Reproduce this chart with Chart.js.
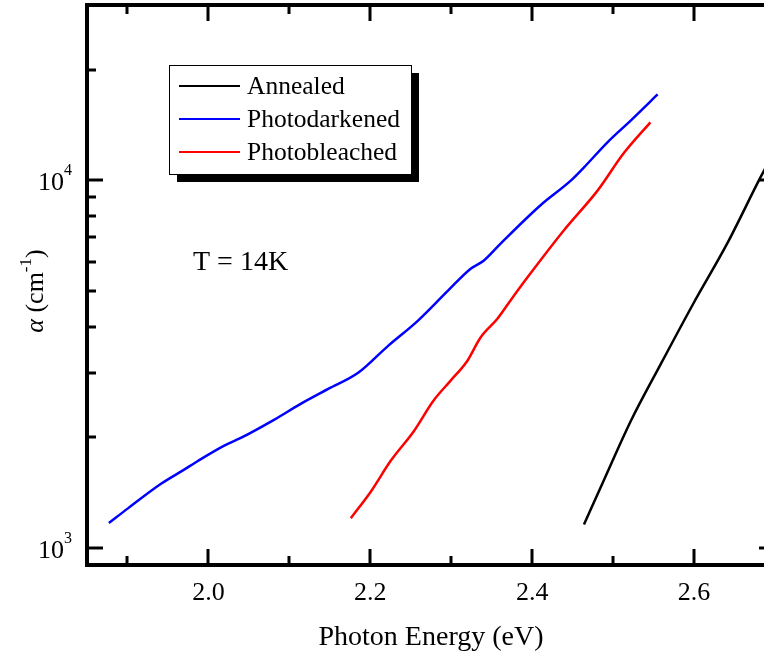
<!DOCTYPE html>
<html>
<head>
<meta charset="utf-8">
<script src="https://cdn.jsdelivr.net/npm/chart.js@4.4.1/dist/chart.umd.min.js"></script>
<style>
  html, body { margin: 0; padding: 0; background: #fff; overflow: hidden; }
  #wrap { width: 764px; height: 657px; overflow: hidden; }
  canvas { display: block; }
</style>
</head>
<body>
<div id="wrap"><canvas id="chart" width="800" height="657"></canvas></div>
<script>
// absorption edge, alpha (cm^-1) vs photon energy (eV), T = 14K
const seriesNames = ['Annealed', 'Photodarkened', 'Photobleached'];
const seriesColors = ['#000000', '#0000ff', '#ff0000'];

const annealedE = [2.464, 2.488, 2.522, 2.559, 2.599, 2.641, 2.682, 2.710];
const annealedAlpha = [1160, 1520, 2220, 3170, 4620, 6740, 10190, 13300];

const darkenedE = [1.877, 1.901, 1.941, 1.969, 1.987, 2.019, 2.040, 2.081, 2.114, 2.148, 2.185,
  2.222, 2.259, 2.296, 2.324, 2.340, 2.361, 2.410, 2.448, 2.464, 2.493, 2.522, 2.555];
const darkenedAlpha = [1170, 1285, 1494, 1630, 1726, 1897, 1994, 2234, 2468, 2710, 2998,
  3550, 4159, 5015, 5754, 6050, 6735, 8550, 10000, 10850, 12700, 14570, 17140];

const bleachedE = [2.176, 2.201, 2.225, 2.254, 2.278, 2.299, 2.320, 2.336, 2.357, 2.373, 2.394,
  2.439, 2.481, 2.513, 2.546];
const bleachedAlpha = [1207, 1429, 1726, 2084, 2517, 2851, 3235, 3736, 4207, 4710, 5443,
  7311, 9397, 11850, 14390];

const xMajorTicks = [2.0, 2.2, 2.4, 2.6];
const xMinorTicks = [1.9, 2.1, 2.3, 2.5, 2.7];
const xTickLabels = ['2.0', '2.2', '2.4', '2.6'];
const yMajorTicks = [1000, 10000];
const yMinorTicks = [2000, 3000, 4000, 5000, 6000, 7000, 8000, 9000, 20000];
const yTickExp = ['3', '4'];

const FONT = '"Liberation Serif", "Times New Roman", serif';

function toPoints(xs, ys) {
  return xs.map((x, i) => ({ x: x, y: ys[i] }));
}

// frame, inward ticks, labels, legend box with shadow, temperature note
const decorations = {
  id: 'decorations',
  afterDraw(chart) {
    const ctx = chart.ctx;
    const a = chart.chartArea;
    const xs = chart.scales.x;
    const ys = chart.scales.y;
    ctx.save();
    ctx.strokeStyle = '#000';
    ctx.fillStyle = '#000';

    // ticks
    ctx.lineWidth = 3;
    ctx.lineCap = 'butt';
    const xTick = (v, len) => {
      const px = Math.round(xs.getPixelForValue(v));
      ctx.beginPath();
      ctx.moveTo(px, a.bottom); ctx.lineTo(px, a.bottom - len);
      ctx.moveTo(px, a.top); ctx.lineTo(px, a.top + len);
      ctx.stroke();
    };
    const yTick = (v, len) => {
      const py = Math.round(ys.getPixelForValue(v));
      ctx.beginPath();
      ctx.moveTo(a.left, py); ctx.lineTo(a.left + len, py);
      ctx.moveTo(a.right, py); ctx.lineTo(a.right - len, py);
      ctx.stroke();
    };
    xMajorTicks.forEach(v => xTick(v, 16));
    xMinorTicks.forEach(v => xTick(v, 9));
    yMajorTicks.forEach(v => yTick(v, 16));
    yMinorTicks.forEach(v => yTick(v, 9));

    // frame
    ctx.lineWidth = 4;
    ctx.strokeRect(a.left, a.top, a.right - a.left, a.bottom - a.top);

    // x tick labels
    ctx.font = '26px ' + FONT;
    ctx.textAlign = 'center';
    ctx.textBaseline = 'alphabetic';
    xMajorTicks.forEach((v, i) => {
      ctx.fillText(xTickLabels[i], xs.getPixelForValue(v), 600);
    });

    // y tick labels, 10 with superscript exponent
    yMajorTicks.forEach((v, i) => {
      const py = ys.getPixelForValue(v);
      ctx.font = '26px ' + FONT;
      ctx.textAlign = 'right';
      ctx.fillText('10', 64, py + 10);
      ctx.font = '16px ' + FONT;
      ctx.textAlign = 'left';
      ctx.fillText(yTickExp[i], 64, py - 5);
    });

    // x axis title
    ctx.font = '28px ' + FONT;
    ctx.textAlign = 'center';
    ctx.fillText('Photon Energy (eV)', (a.left + a.right) / 2, 645);

    // y axis title: italic alpha, (cm^-1)
    ctx.save();
    ctx.translate(43, 291);
    ctx.rotate(-Math.PI / 2);
    ctx.textAlign = 'left';
    const big = '26px ' + FONT, small = '17px ' + FONT;
    ctx.font = 'italic ' + big;
    const w1 = ctx.measureText('\u03b1').width;
    ctx.font = big;
    const w2 = ctx.measureText(' (cm').width;
    ctx.font = small;
    const w3 = ctx.measureText('-1').width;
    ctx.font = big;
    const w4 = ctx.measureText(')').width;
    let x0 = -(w1 + w2 + w3 + w4) / 2;
    ctx.font = 'italic ' + big;
    ctx.fillText('\u03b1', x0, 0); x0 += w1;
    ctx.font = big;
    ctx.fillText(' (cm', x0, 0); x0 += w2;
    ctx.font = small;
    ctx.fillText('-1', x0, -12); x0 += w3;
    ctx.font = big;
    ctx.fillText(')', x0, 0);
    ctx.restore();

    // legend with drop shadow
    const lx = 169, ly = 65, lw = 242, lh = 109;
    ctx.fillStyle = '#000';
    ctx.fillRect(lx + 8, ly + 8, lw, lh);
    ctx.fillStyle = '#fff';
    ctx.fillRect(lx, ly, lw, lh);
    ctx.lineWidth = 1;
    ctx.strokeStyle = '#000';
    ctx.strokeRect(lx + 0.5, ly + 0.5, lw, lh);
    ctx.font = '25.5px ' + FONT;
    ctx.textAlign = 'left';
    ctx.textBaseline = 'middle';
    chart.data.datasets.forEach((ds, i) => {
      const ry = 86 + i * 33;
      ctx.strokeStyle = ds.borderColor;
      ctx.lineWidth = 2;
      ctx.beginPath();
      ctx.moveTo(179, ry); ctx.lineTo(240, ry);
      ctx.stroke();
      ctx.fillStyle = '#000';
      ctx.fillText(ds.label, 247, ry + 1);
    });

    // temperature note
    ctx.font = '28px ' + FONT;
    ctx.textBaseline = 'alphabetic';
    ctx.fillText('T = 14K', 193, 270);
    ctx.restore();
  }
};

const ctx = document.getElementById('chart').getContext('2d');
const chart = new Chart(ctx, {
  type: 'line',
  data: {
    datasets: [
      { label: seriesNames[0], data: toPoints(annealedE, annealedAlpha), borderColor: seriesColors[0] },
      { label: seriesNames[1], data: toPoints(darkenedE, darkenedAlpha), borderColor: seriesColors[1] },
      { label: seriesNames[2], data: toPoints(bleachedE, bleachedAlpha), borderColor: seriesColors[2] }
    ]
  },
  options: {
    responsive: false,
    animation: false,
    devicePixelRatio: 1,
    layout: { padding: { left: 0, top: 5, right: 25, bottom: 0 } },
    elements: {
      line: { borderWidth: 2.5, cubicInterpolationMode: 'monotone', fill: false },
      point: { radius: 0 }
    },
    plugins: {
      legend: { display: false },
      tooltip: { enabled: false }
    },
    scales: {
      x: {
        type: 'linear',
        min: 1.85,
        max: 2.70,
        grid: { display: false },
        border: { display: false },
        ticks: { display: false },
        afterFit(scale) { scale.height = 92; }
      },
      y: {
        type: 'logarithmic',
        min: 900,
        max: 30000,
        grid: { display: false },
        border: { display: false },
        ticks: { display: false },
        afterFit(scale) { scale.width = 87; }
      }
    }
  },
  plugins: [decorations]
});
</script>
</body>
</html>
